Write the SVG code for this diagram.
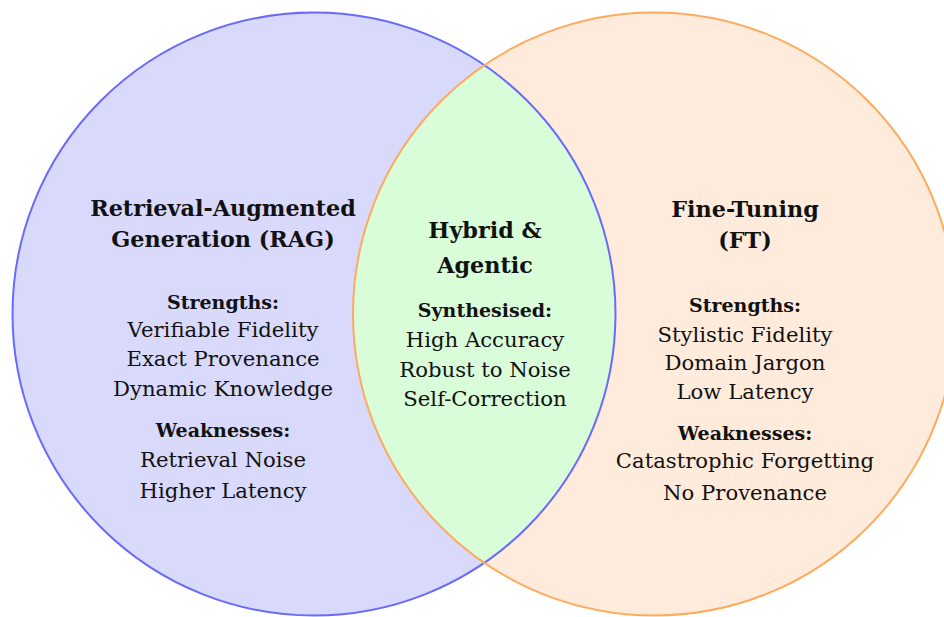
<svg xmlns="http://www.w3.org/2000/svg" width="944" height="617" viewBox="0 0 944 617">
<style>
text{font-family:"DejaVu Serif","Liberation Serif",serif;text-anchor:middle;fill:#111}
.t{font-weight:bold;font-size:22.3px}
.h{font-weight:bold;font-size:19px}
.b{font-size:21.2px}
</style>
<defs>
<clipPath id="clipL"><circle cx="314" cy="314" r="301.5"/></clipPath>
</defs>
<rect width="944" height="617" fill="#fff"/>
<g id="rag-circle">
<circle cx="314" cy="314" r="301.5" fill="#d9d9fc"/>
</g>
<g id="ft-circle">
<circle cx="654.5" cy="314" r="301.5" fill="#ffebdb"/>
</g>
<g id="overlap">
<circle cx="654.5" cy="314" r="301.5" fill="#d9fcd9" clip-path="url(#clipL)"/>
</g>
<g id="outlines" fill="none" stroke-width="2">
<circle cx="314" cy="314" r="301.5" stroke="#6a6afa"/>
<circle cx="654.5" cy="314" r="301.5" stroke="#fdab5e"/>
</g>
<g id="rag">
<text class="t" x="223" y="216">Retrieval-Augmented</text>
<text class="t" x="223" y="247">Generation (RAG)</text>
<text class="h" x="223" y="309">Strengths:</text>
<text class="b" x="223" y="337">Verifiable Fidelity</text>
<text class="b" x="223" y="366">Exact Provenance</text>
<text class="b" x="223" y="396">Dynamic Knowledge</text>
<text class="h" x="223" y="437">Weaknesses:</text>
<text class="b" x="223" y="467">Retrieval Noise</text>
<text class="b" x="223" y="498">Higher Latency</text>
</g>
<g id="hybrid">
<text class="t" x="485" y="238">Hybrid &amp;</text>
<text class="t" x="485" y="273">Agentic</text>
<text class="h" x="485" y="317">Synthesised:</text>
<text class="b" x="485" y="347">High Accuracy</text>
<text class="b" x="485" y="377">Robust to Noise</text>
<text class="b" x="485" y="406">Self-Correction</text>
</g>
<g id="ft">
<text class="t" x="745" y="217">Fine-Tuning</text>
<text class="t" x="745" y="248">(FT)</text>
<text class="h" x="745" y="312">Strengths:</text>
<text class="b" x="745" y="342">Stylistic Fidelity</text>
<text class="b" x="745" y="370">Domain Jargon</text>
<text class="b" x="745" y="399">Low Latency</text>
<text class="h" x="745" y="440">Weaknesses:</text>
<text class="b" x="745" y="468">Catastrophic Forgetting</text>
<text class="b" x="745" y="500">No Provenance</text>
</g>
</svg>
